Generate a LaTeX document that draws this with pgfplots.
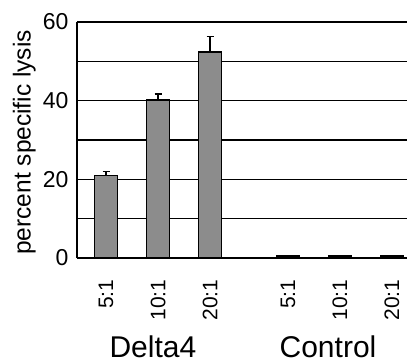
\documentclass[border=0pt]{standalone}
\usepackage{pgfplots}
\pgfplotsset{compat=1.18}
\usepackage{fontspec}
\setmainfont{Liberation Sans}
\begin{document}
\begin{tikzpicture}
\begin{axis}[
  scale only axis, width=330pt, height=236pt,
  xmin=-0.56, xmax=5.79, ymin=0, ymax=60,
  axis x line*=bottom, axis y line*=left,
  axis line style={line width=1.8pt, -},
  ytick={0,10,...,60}, yticklabels={0,,20,,40,,60},
  major tick length=0pt,
  ymajorgrids, major grid style={black, line width=1.5pt},
  /pgf/number format/assume math mode=true,
  yticklabel style={font=\fontsize{23}{23}\selectfont, xshift=-5pt},
  xtick={0,1,2,3.5,4.5,5.5},
  xticklabels={5:1,10:1,20:1,5:1,10:1,20:1},
  xticklabel style={rotate=90, anchor=east, font=\fontsize{21}{21}\selectfont, xshift=-18pt},
  ylabel={percent specific lysis},
  ylabel style={at={(axis description cs:-0.16,0.49)}, anchor=center, font=\fontsize{24.5}{24.5}\selectfont},
  ybar, bar width=0.44,
  clip=false,
]
\addplot[fill=black!45, draw=black, line width=1.6pt,
  error bars/.cd, y dir=plus, y explicit,
  error bar style={line width=1.8pt},
  error mark options={rotate=90, mark size=3.5pt, line width=1.8pt}]
  table[x=x, y=y, y error=e] {
x y e
0 21.0 1.0
1 40.2 1.5
2 52.3 4.0
3.5 0.5 0
4.5 0.5 0
5.5 0.5 0
};
\node[anchor=base, font=\fontsize{30}{30}\selectfont] at (axis cs:0.9,0) [yshift=-99pt] {Delta4};
\node[anchor=base, font=\fontsize{30}{30}\selectfont] at (axis cs:4.27,0) [yshift=-99pt] {Control};
\end{axis}
\pgfresetboundingbox
\path ([xshift=-77pt,yshift=-106pt]current axis.south west) rectangle ([yshift=22pt]current axis.north east);
\end{tikzpicture}
\end{document}
